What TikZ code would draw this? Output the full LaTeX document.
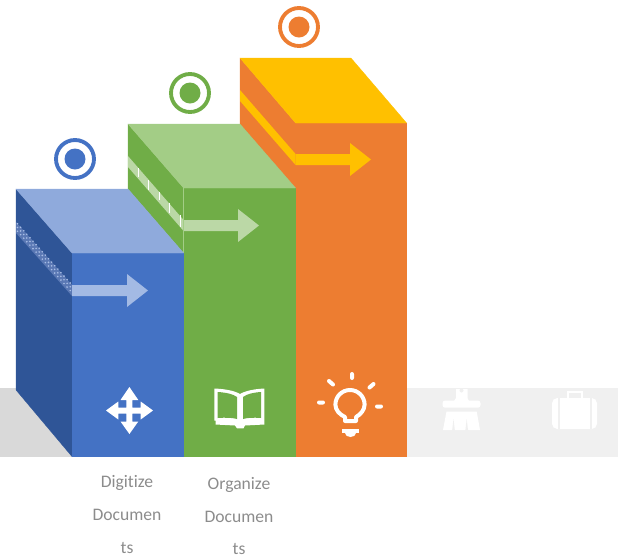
\documentclass[tikz,border=0pt]{standalone}
\usepackage{fontspec}
\setmainfont[Ligatures=NoCommon]{Carlito}
\definecolor{cblue}{HTML}{4472C4}
\definecolor{cbluedark}{HTML}{2F5597}
\definecolor{cbluetop}{HTML}{8FAADC}
\definecolor{cbluearrow}{HTML}{A3BAE4}
\definecolor{cbluestripe}{HTML}{5A78B4}
\definecolor{cbluedots}{HTML}{A9BEE6}
\definecolor{cgreen}{HTML}{70AD47}
\definecolor{cgreentop}{HTML}{A3CD86}
\definecolor{cgreenarrow}{HTML}{BBD8A6}
\definecolor{corange}{HTML}{ED7D31}
\definecolor{cyellow}{HTML}{FFC000}
\definecolor{bandlight}{HTML}{F0F0F0}
\definecolor{banddark}{HTML}{D9D9D9}
\definecolor{labelgray}{HTML}{8C8C8C}
\tikzset{
  face/.style={fill=#1,draw=#1,line width=0.2pt,line join=round},
  ring/.style={draw=#1,line width=2.9pt,fill=white},
  dotc/.style={fill=#1},
  icon/.style={fill=white},
  iconline/.style={draw=white,line cap=round,line join=round},
  caption/.style={text=labelgray,font=\fontsize{13.2}{15}\selectfont,inner sep=0pt,anchor=center}
}
\begin{document}
\begin{tikzpicture}[x=0.75pt,y=-0.75pt]
\useasboundingbox (0,0) rectangle (618,558);
% floor band
\fill[banddark] (0,388) rectangle (72.5,457);
\fill[bandlight] (406.6,388) rectangle (618,457);
% orange block
\path[face=corange] (240,58) -- (295.6,123) -- (295.6,190) -- (240,126) -- cycle;
\path[face=corange] (295.6,123) rectangle (406.6,456.6);
\path[face=cyellow] (240,58) -- (351,58) -- (406.6,123) -- (295.6,123) -- cycle;
\fill[cyellow] (240,90) -- (295.6,154) -- (295.6,165) -- (240,101) -- cycle;
\fill[cyellow] (295.6,154) -- (350,154) -- (350,143) -- (371,159.5) -- (350,176) -- (350,165) -- (295.6,165) -- cycle;
% green block
\path[face=cgreen] (128,124) -- (183.6,188) -- (183.6,253) -- (128,189) -- cycle;
\path[face=cgreen] (183.6,188) rectangle (295.6,456.6);
\path[face=cgreentop] (128,124) -- (240,124) -- (295.6,188) -- (183.6,188) -- cycle;
\fill[cgreenarrow] (128,156) -- (183.6,220) -- (183.6,231) -- (128,167) -- cycle;
\fill[cgreenarrow] (183.6,220) -- (238,220) -- (238,209) -- (259,225.5) -- (238,242) -- (238,231) -- (183.6,231) -- cycle;
\draw[white,line width=0.6pt] (138,168) -- (138,177) (148,180) -- (148,190) (159,192) -- (159,200) (169,203) -- (169,213) (180,215) -- (180,227);
\draw[cgreentop,line width=0.5pt] (183.6,188) -- (183.6,253);
% blue block
\path[face=cbluedark] (16,189) -- (72,253) -- (72,456.6) -- (16,390) -- cycle;
\path[face=cblue] (72,253) rectangle (183.6,456.6);
\path[face=cbluetop] (16,189) -- (128,189) -- (183.6,253) -- (72,253) -- cycle;
\fill[cbluestripe] (16,222) -- (72,285) -- (72,296) -- (16,233) -- cycle;
\foreach \i in {0,...,17}{
  \foreach \r in {1.8,5.5,9.2}{
    \fill[cbluedots] ({17.5+\i*3.1},{222+\r+\i*3.1*63/56}) circle (0.9);
  }
}
\fill[cbluearrow] (72,285) -- (127,285) -- (127,274) -- (148,290.5) -- (127,307) -- (127,296) -- (72,296) -- cycle;
% target marks
\path[ring=cblue] (75,159) circle (19);
\fill[dotc=cblue] (75,159) circle (10.5);
\path[ring=cgreen] (190,93) circle (19);
\fill[dotc=cgreen] (190,93) circle (10.5);
\path[ring=corange] (299,27) circle (19);
\fill[dotc=corange] (299,27) circle (10.5);
% move icon
\fill[icon] (126.4,400) -- (120.5,400) -- (129.4,387) -- (138.3,400) -- (132.4,400) -- (132.4,407.5) -- (140.7,407.5) -- (140.7,401.5) -- (153,410.5) -- (140.7,419.5) -- (140.7,413.5) -- (132.4,413.5) -- (132.4,421.5) -- (138.3,421.5) -- (129.4,434) -- (120.5,421.5) -- (126.4,421.5) -- (126.4,413.5) -- (118.3,413.5) -- (118.3,419.5) -- (106,410.5) -- (118.3,401.5) -- (118.3,407.5) -- (126.4,407.5) -- cycle;
% book icon
\fill[icon] (214.3,388.5) .. controls (225,389) and (234,390.5) .. (240,394) .. controls (246,390.5) and (255,389) .. (264.3,388.5) -- (264.3,424.5) -- (245,425.5) -- (243.5,428.3) -- (237,428.3) -- (235,425.5) -- (215.5,424.5) -- (215.5,420.5) -- (214.3,420.5) -- cycle;
\fill[cgreen] (217.7,392) .. controls (226,392.5) and (233,394) .. (237,397) -- (237,419) .. controls (232,417.5) and (225,417.5) .. (217.7,418) -- cycle;
\fill[cgreen] (261,392) .. controls (253,392.5) and (247,394) .. (243,397) -- (243,419) .. controls (248,417.5) and (254,417.5) .. (261,418) -- cycle;
% bulb icon
\draw[iconline,line width=3pt] (345,421) -- (345,417) .. controls (339.5,414.5) and (335.4,410) .. (335.4,404.6) arc[start angle=180,end angle=360,radius=14.6] .. controls (364.6,410) and (360.5,414.5) .. (356,417) -- (356,421) -- cycle;
\fill[icon] (342,429) rectangle (359,433);
\fill[icon] (345,433) -- (356,433) arc[start angle=0,end angle=180,x radius=5.5,y radius=4] -- cycle;
\draw[iconline,line width=3pt] (352,374) -- (352,378) (329,381) -- (333,384.5) (369.5,387.5) -- (373.5,384) (319,402.5) -- (323,402.5) (377,406.5) -- (381,406.5);
% brush icon
\fill[icon] (456,389) -- (467.5,389) -- (467.5,398) -- (469,401) -- (454,401) -- (456,398) -- cycle;
\fill[bandlight] (461.5,390.5) circle (2);
\fill[icon,rounded corners=2pt] (442.5,400.5) rectangle (480.5,407.7);
\fill[icon] (446.5,411.5) -- (476.7,411.5) -- (480,430) -- (443,430) -- cycle;
\fill[bandlight] (453.5,419) -- (454.8,430) -- (452.2,430) -- cycle (466.7,419) -- (468,430) -- (465.4,430) -- cycle;
% case icon
\fill[icon,rounded corners=4pt] (552,398) rectangle (597,429);
\draw[white,line width=2.2pt] (568,398) -- (568,392) -- (582,392) -- (582,398);
\draw[bandlight,line width=0.9pt] (559,398) -- (559,429) (591,398) -- (591,429);
% captions
\node[caption] (d1) at (127,483) {Digitize};
\node[caption] (d2) at (127,514.5) {Documen};
\node[caption] (d3) at (127,547.5) {ts};
\node[caption] (o1) at (239,485) {Organize};
\node[caption] (o2) at (239,516.5) {Documen};
\node[caption] (o3) at (239,548.5) {ts};
\end{tikzpicture}
\end{document}
